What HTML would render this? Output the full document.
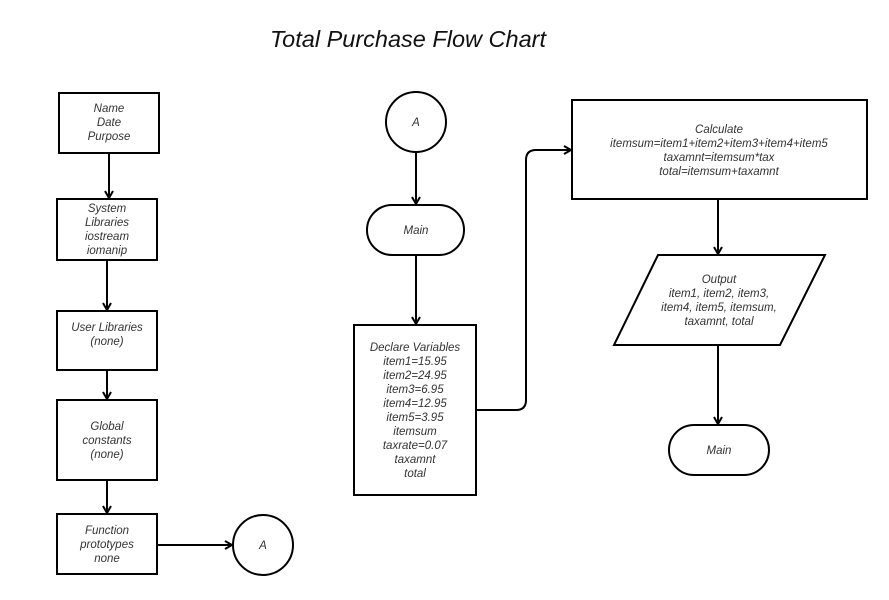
<!DOCTYPE html>
<html><head><style>
body{margin:0;background:#fff;}
svg text{font-family:"Liberation Sans",sans-serif;font-style:italic;fill:#333;font-size:11.5px;text-anchor:middle;}
</style></head><body>
<svg width="889" height="595" viewBox="0 0 889 595" xmlns="http://www.w3.org/2000/svg">
<defs><marker id="a" markerWidth="10" markerHeight="10" refX="8" refY="5" orient="auto" markerUnits="userSpaceOnUse"><path d="M1,1 L8,5 L1,9" fill="none" stroke="#000" stroke-width="2"/></marker></defs>
<text x="408" y="47" style="font-size:23.5px;fill:#111">Total Purchase Flow Chart</text>
<g fill="#fff" stroke="#000" stroke-width="2">
<rect x="59" y="93" width="100" height="60"/>
<rect x="57" y="199" width="100" height="61"/>
<rect x="57" y="311" width="100" height="59"/>
<rect x="57" y="400" width="100" height="80"/>
<rect x="57" y="514" width="100" height="60"/>
<circle cx="263" cy="545" r="30"/>
<circle cx="416" cy="122" r="30"/>
<rect x="367" y="205" width="97" height="50" rx="25"/>
<rect x="354" y="325" width="122" height="170"/>
<rect x="572" y="100" width="295" height="99"/>
<polygon points="658,255 825,255 780,345 614,345"/>
<rect x="669" y="425" width="100" height="50" rx="25"/>
</g>
<g stroke="#000" stroke-width="2" fill="none" marker-end="url(#a)">
<line x1="109" y1="153" x2="109" y2="198"/>
<line x1="107" y1="260" x2="107" y2="310"/>
<line x1="107" y1="370" x2="107" y2="399"/>
<line x1="107" y1="480" x2="107" y2="513"/>
<line x1="157" y1="545" x2="232" y2="545"/>
<line x1="416" y1="152" x2="416" y2="204"/>
<line x1="416" y1="255" x2="416" y2="324"/>
<path d="M476,410 L516,410 Q526,410 526,400 L526,160 Q526,150 536,150 L571,150"/>
<line x1="718" y1="199" x2="718" y2="254"/>
<line x1="718" y1="345" x2="718" y2="424"/>
</g>
<text x="109" y="112">Name</text><text x="109" y="126">Date</text><text x="109" y="140">Purpose</text>
<text x="107" y="212">System</text><text x="107" y="226">Libraries</text><text x="107" y="240">iostream</text><text x="107" y="254">iomanip</text>
<text x="107" y="331">User Libraries</text><text x="107" y="345">(none)</text>
<text x="107" y="430">Global</text><text x="107" y="444">constants</text><text x="107" y="458">(none)</text>
<text x="107" y="534">Function</text><text x="107" y="548">prototypes</text><text x="107" y="562">none</text>
<text x="263" y="549">A</text>
<text x="416" y="126">A</text>
<text x="416" y="234">Main</text>
<text x="415" y="351">Declare Variables</text><text x="415" y="365">item1=15.95</text><text x="415" y="379">item2=24.95</text><text x="415" y="393">item3=6.95</text><text x="415" y="407">item4=12.95</text><text x="415" y="421">item5=3.95</text><text x="415" y="435">itemsum</text><text x="415" y="449">taxrate=0.07</text><text x="415" y="463">taxamnt</text><text x="415" y="477">total</text>
<text x="719" y="133">Calculate</text><text x="719" y="147">itemsum=item1+item2+item3+item4+item5</text><text x="719" y="161">taxamnt=itemsum*tax</text><text x="719" y="175">total=itemsum+taxamnt</text>
<text x="719" y="283">Output</text><text x="719" y="297">item1, item2, item3,</text><text x="719" y="311">item4, item5, itemsum,</text><text x="719" y="325">taxamnt, total</text>
<text x="719" y="454">Main</text>
</svg>
</body></html>
